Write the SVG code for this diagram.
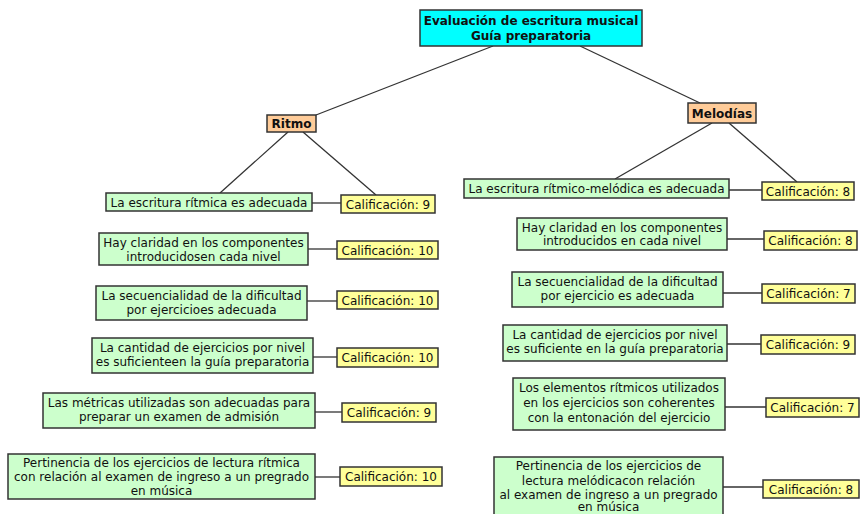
<svg xmlns="http://www.w3.org/2000/svg" width="860" height="514" viewBox="0 0 860 514">
<style>
.b{stroke:#333;stroke-width:1.5}
.g{fill:#ccffcc}
.y{fill:#ffff99}
.o{fill:#ffcc99}
.c{fill:#00ffff}
text{font-family:"DejaVu Sans",Verdana,sans-serif;font-size:12px;fill:#111;text-anchor:middle}
.t{font-weight:bold;font-size:12px}
#conn line{stroke:#333;stroke-width:1.3}
</style>
<rect width="860" height="514" fill="#fff"/>
<g id="conn">
<line x1="493" y1="46" x2="316" y2="115"/>
<line x1="580" y1="46" x2="700" y2="103"/>
<line x1="288" y1="132" x2="220" y2="193"/>
<line x1="303" y1="132" x2="376" y2="195"/>
<line x1="312" y1="203" x2="341" y2="203"/>
<line x1="308" y1="249" x2="337" y2="249"/>
<line x1="307" y1="301" x2="337" y2="301"/>
<line x1="313" y1="357" x2="337" y2="357"/>
<line x1="315" y1="412" x2="342" y2="412"/>
<line x1="315" y1="477" x2="340" y2="477"/>
<line x1="712" y1="123" x2="615" y2="179"/>
<line x1="729" y1="123" x2="797" y2="182"/>
<line x1="729" y1="190" x2="762" y2="190"/>
<line x1="727" y1="239" x2="764" y2="239"/>
<line x1="723" y1="293" x2="762" y2="293"/>
<line x1="727" y1="344" x2="761" y2="344"/>
<line x1="725" y1="407" x2="766" y2="407"/>
<line x1="723" y1="487" x2="763" y2="487"/>
</g>
<g id="title"><rect class="b c" x="420" y="10" width="222" height="36"/><text class="t" x="531" y="25">Evaluación de escritura musical</text><text class="t" x="531" y="40">Guía preparatoria</text></g>
<g id="ritmo"><rect class="b o" x="267" y="115" width="49" height="17"/><text class="t" x="291.5" y="128">Ritmo</text></g>
<g id="melodias"><rect class="b o" x="688" y="103" width="68" height="20"/><text class="t" x="722" y="117.5">Melodías</text></g>

<g id="l1"><rect class="b g" x="106" y="193" width="206" height="18"/><text x="209" y="206.5">La escritura rítmica es adecuada</text></g>
<g id="lc1"><rect class="b y" x="341" y="195" width="94" height="18"/><text x="388" y="208.5">Calificación: 9</text></g>
<g id="l2"><rect class="b g" x="99" y="233" width="209" height="32"/><text x="203.5" y="247">Hay claridad en los componentes</text><text x="203.5" y="260.5">introducidosen cada nivel</text></g>
<g id="lc2"><rect class="b y" x="337" y="241" width="101" height="18"/><text x="387.5" y="254.5">Calificación: 10</text></g>
<g id="l3"><rect class="b g" x="96" y="286" width="211" height="34"/><text x="201.5" y="300">La secuencialidad de la dificultad</text><text x="201.5" y="314">por ejercicioes adecuada</text></g>
<g id="lc3"><rect class="b y" x="337" y="291" width="101" height="18"/><text x="387.5" y="304.5">Calificación: 10</text></g>
<g id="l4"><rect class="b g" x="92" y="338" width="221" height="35"/><text x="202.5" y="352">La cantidad de ejercicios por nivel</text><text x="202.5" y="366">es suficienteen la guía preparatoria</text></g>
<g id="lc4"><rect class="b y" x="337" y="348" width="101" height="19"/><text x="387.5" y="361.5">Calificación: 10</text></g>
<g id="l5"><rect class="b g" x="43" y="393" width="272" height="35"/><text x="179" y="407">Las métricas utilizadas son adecuadas para</text><text x="179" y="421">preparar un examen de admisión</text></g>
<g id="lc5"><rect class="b y" x="342" y="403" width="94" height="19"/><text x="389" y="416.5">Calificación: 9</text></g>
<g id="l6"><rect class="b g" x="8" y="454" width="307" height="45"/><text x="161.5" y="467">Pertinencia de los ejercicios de lectura rítmica</text><text x="161.5" y="481">con relación al examen de ingreso a un pregrado</text><text x="161.5" y="494.5">en música</text></g>
<g id="lc6"><rect class="b y" x="340" y="467" width="102" height="19"/><text x="391" y="480.5">Calificación: 10</text></g>

<g id="r1"><rect class="b g" x="464" y="179" width="265" height="19"/><text x="596.5" y="193">La escritura rítmico-melódica es adecuada</text></g>
<g id="rc1"><rect class="b y" x="762" y="182" width="92" height="18"/><text x="808" y="195.5">Calificación: 8</text></g>
<g id="r2"><rect class="b g" x="517" y="218" width="210" height="32"/><text x="622" y="231.5">Hay claridad en los componentes</text><text x="622" y="245">introducidos en cada nivel</text></g>
<g id="rc2"><rect class="b y" x="764" y="231" width="93" height="19"/><text x="810.5" y="244.5">Calificación: 8</text></g>
<g id="r3"><rect class="b g" x="512" y="272" width="211" height="35"/><text x="617.5" y="286">La secuencialidad de la dificultad</text><text x="617.5" y="300">por ejercicio es adecuada</text></g>
<g id="rc3"><rect class="b y" x="762" y="284" width="93" height="19"/><text x="808.5" y="297.5">Calificación: 7</text></g>
<g id="r4"><rect class="b g" x="503" y="325" width="224" height="36"/><text x="615" y="339">La cantidad de ejercicios por nivel</text><text x="615" y="353">es suficiente en la guía preparatoria</text></g>
<g id="rc4"><rect class="b y" x="761" y="335" width="94" height="19"/><text x="808" y="348.5">Calificación: 9</text></g>
<g id="r5"><rect class="b g" x="513" y="378" width="212" height="52"/><text x="619" y="392">Los elementos rítmicos utilizados</text><text x="619" y="407">en los ejercicios son coherentes</text><text x="619" y="422">con la entonación del ejercicio</text></g>
<g id="rc5"><rect class="b y" x="766" y="398" width="93" height="19"/><text x="812.5" y="411.5">Calificación: 7</text></g>
<g id="r6"><rect class="b g" x="494" y="457" width="229" height="62"/><text x="608.5" y="470">Pertinencia de los ejercicios de</text><text x="608.5" y="484.5">lectura melódicacon relación</text><text x="608.5" y="498.5">al examen de ingreso a un pregrado</text><text x="608.5" y="511">en música</text></g>
<g id="rc6"><rect class="b y" x="763" y="480" width="96" height="18"/><text x="811" y="493.5">Calificación: 8</text></g>
</svg>
